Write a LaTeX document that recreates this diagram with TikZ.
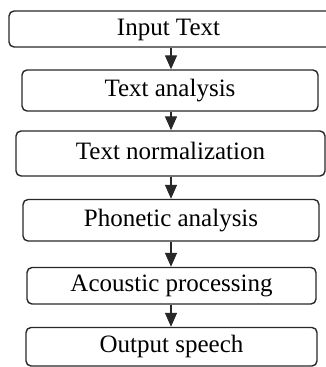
\documentclass[tikz,border=0pt]{standalone}
\usepackage{fontspec}
\setmainfont{Liberation Serif}
\usetikzlibrary{arrows.meta}
\definecolor{edge}{RGB}{40,40,40}
\begin{document}
\begin{tikzpicture}[x=1pt,y=1pt,
  stage/.style={draw=edge, line width=1.4pt, rounded corners=5pt,
    inner sep=0pt, text height=18pt, text depth=5.5pt,
    font=\fontsize{25}{30}\selectfont},
  flow/.style={draw=edge, line width=1.4pt,
    -{Triangle[length=14pt,width=12pt]}}]
\useasboundingbox (0,0) rectangle (326,367);
% pipeline stages, top to bottom; the first box runs past the right edge
\node[stage, minimum width=324pt, minimum height=36pt]   (b1) at (171,338)     {\hspace*{-5pt}Input Text};
\node[stage, minimum width=296pt, minimum height=41pt]   (b2) at (170,276.5)   {Text analysis};
\node[stage, minimum width=309pt, minimum height=45pt]   (b3) at (170.5,213.5) {Text normalization};
\node[stage, minimum width=296pt, minimum height=41.5pt] (b4) at (171,146.75) {Phonetic analysis};
\node[stage, minimum width=289pt, minimum height=36.5pt] (b5) at (171.5,81.25) {Acoustic processing};
\node[stage, minimum width=291pt, minimum height=38.5pt] (b6) at (171.5,20.25) {Output speech};
% common vertical axis of the arrows
\coordinate (ax) at (171,0);
\draw[flow] (b1.south -| ax) -- (b2.north -| ax);
\draw[flow] (b2.south -| ax) -- (b3.north -| ax);
\draw[flow] (b3.south -| ax) -- (b4.north -| ax);
\draw[flow] (b4.south -| ax) -- (b5.north -| ax);
\draw[flow] (b5.south -| ax) -- (b6.north -| ax);
\end{tikzpicture}
\end{document}
